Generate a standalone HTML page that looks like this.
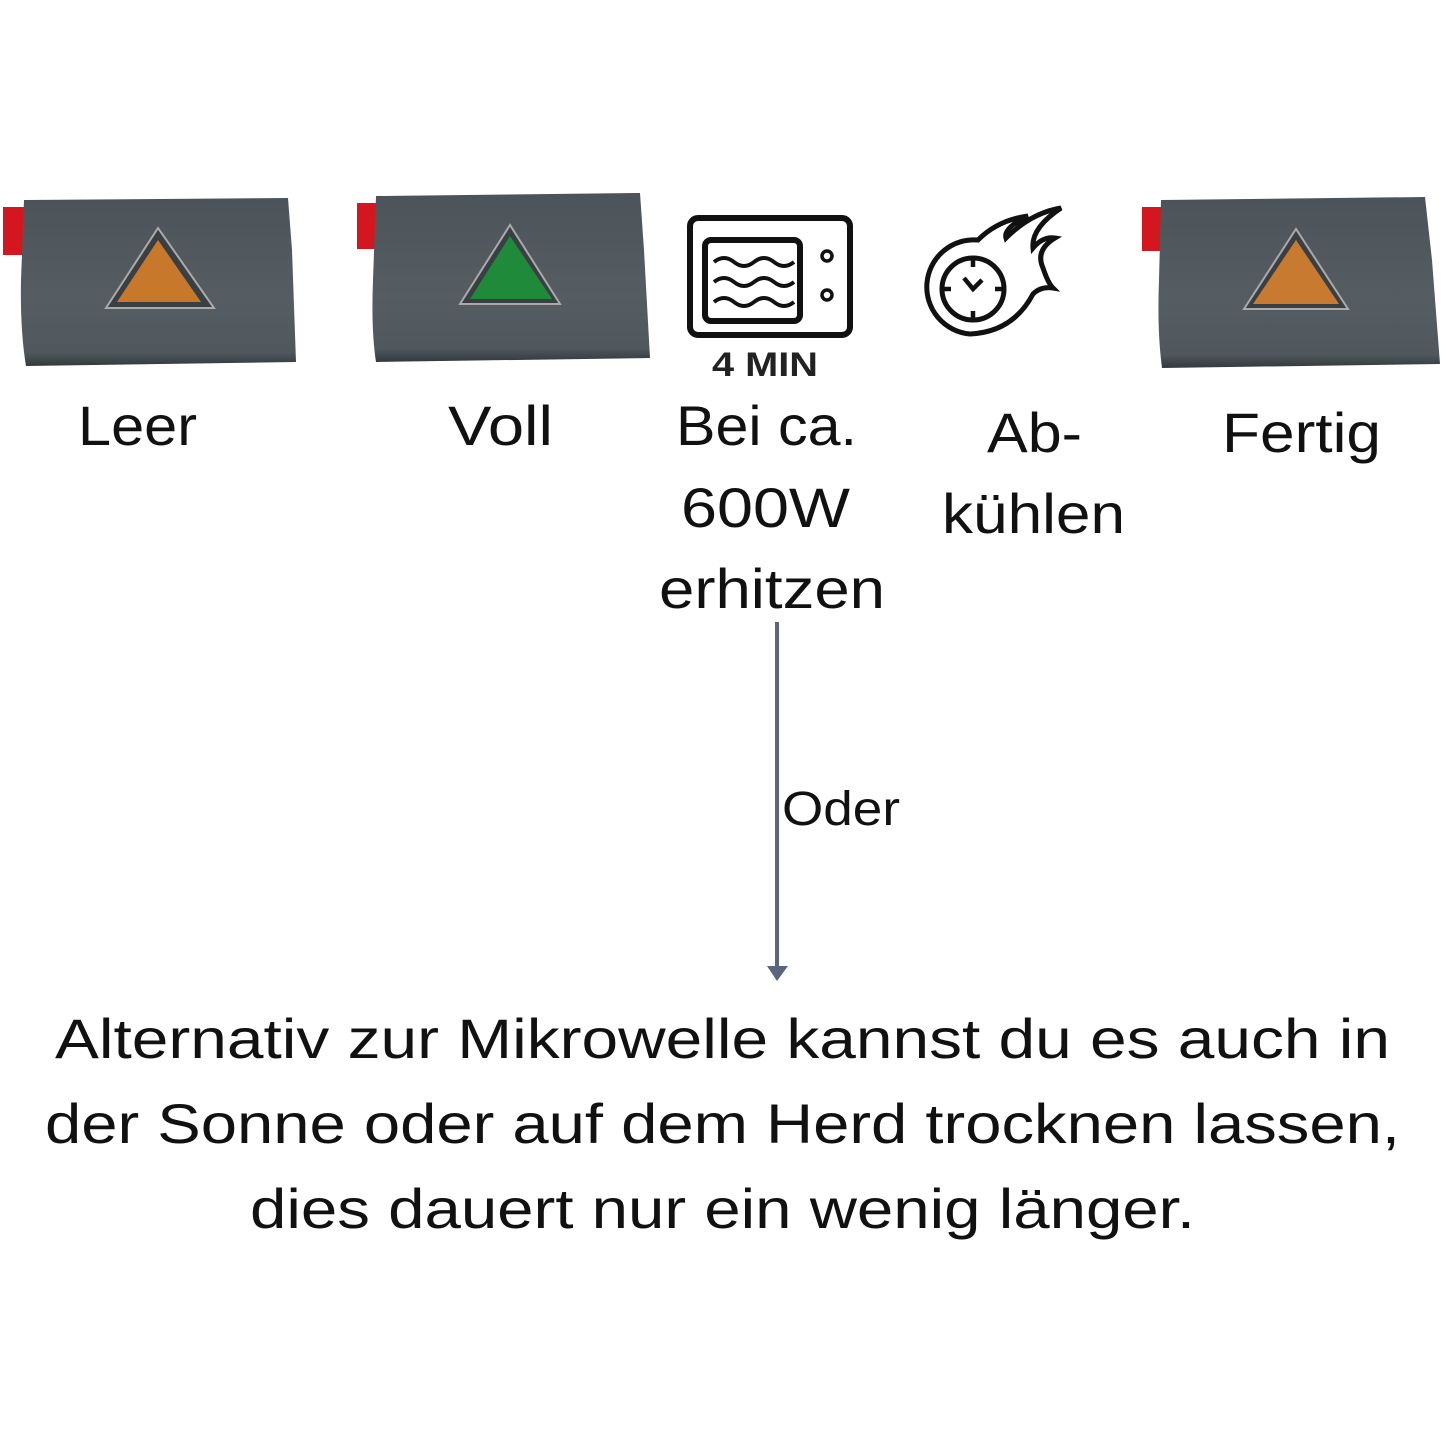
<!DOCTYPE html>
<html><head><meta charset="utf-8"><style>html,body{margin:0;padding:0;background:#fff}svg{display:block}</style></head>
<body>
<svg width="1445" height="1445" viewBox="0 0 1445 1445" xmlns="http://www.w3.org/2000/svg">
<defs>
<linearGradient id="bag" x1="0" y1="0" x2="0" y2="1">
<stop offset="0" stop-color="#4c5459"/><stop offset="0.6" stop-color="#555d62"/><stop offset="0.92" stop-color="#50585d"/><stop offset="1" stop-color="#33393d"/>
</linearGradient>
</defs>
<rect width="1445" height="1445" fill="#fff"/>
<!-- Leer bag -->
<rect x="3" y="207" width="22" height="48" fill="#d4161e"/>
<path d="M24 200 L288 198 L292 250 L296 362 L26 366 Q20 330 21 280 Z" fill="url(#bag)"/>
<polygon points="158,228 106,308 214,308" fill="#3a3f44" stroke="#aaa" stroke-width="2"/>
<polygon points="158,240 117,302 201,302" fill="#c8782a"/>
<!-- Voll bag -->
<rect x="357" y="203" width="20" height="46" fill="#d4161e"/>
<path d="M376 196 L640 193 L644 250 L650 358 L376 362 Q371 330 373 280 Z" fill="url(#bag)"/>
<polygon points="510,225 460,304 560,304" fill="#3a3f44" stroke="#aaa" stroke-width="2"/>
<polygon points="510,236 470,299 552,299" fill="#1f8a3a"/>
<!-- Fertig bag -->
<rect x="1142" y="207" width="20" height="44" fill="#d4161e"/>
<path d="M1161 200 L1425 197 L1432 260 L1440 364 L1162 368 Q1157 330 1159 280 Z" fill="url(#bag)"/>
<polygon points="1296,229 1244,309 1348,309" fill="#3a3f44" stroke="#aaa" stroke-width="2"/>
<polygon points="1296,240 1253,304 1339,304" fill="#c87a30"/>
<!-- Microwave -->
<rect x="690" y="218" width="160" height="117" rx="8" fill="none" stroke="#111" stroke-width="6"/>
<rect x="705" y="240" width="95" height="81" rx="6" fill="none" stroke="#111" stroke-width="6"/>
<path d="M714 262 q10 -8 20 0 t20 0 t20 0 t20 0 M714 282 q10 -8 20 0 t20 0 t20 0 t20 0 M714 302 q10 -8 20 0 t20 0 t20 0 t20 0" fill="none" stroke="#111" stroke-width="4"/>
<circle cx="827" cy="256" r="5" fill="none" stroke="#111" stroke-width="3.5"/>
<circle cx="827" cy="295" r="5" fill="none" stroke="#111" stroke-width="3.5"/>
<text x="712" y="376" font-family="Liberation Sans, sans-serif" font-weight="bold" font-size="34" textLength="106" lengthAdjust="spacingAndGlyphs" fill="#222">4 MIN</text>
<!-- Clock with flames -->
<path d="M970 334 a47 47 0 1 1 8 -94 q20 -20 50 -24 q-25 12 -22 22 q25 -25 55 -30 q-30 20 -28 40 q10 -12 22 -10 q-20 12 -12 30 q5 15 10 20 q-12 -2 -20 6 q-20 38 -63 40 z" fill="none" stroke="#111" stroke-width="5"/>
<circle cx="973" cy="289" r="31" fill="none" stroke="#111" stroke-width="5"/>
<path d="M973 258 v9 M973 320 v-9 M942 289 h9 M1004 289 h-9 M964 278 l9 11 l9 -9" fill="none" stroke="#111" stroke-width="4.5"/>
<g font-family="Liberation Sans, sans-serif" fill="#111" font-size="56">
<text x="78" y="445" textLength="119" lengthAdjust="spacingAndGlyphs">Leer</text>
<text x="448" y="445" textLength="105" lengthAdjust="spacingAndGlyphs">Voll</text>
<text x="676" y="445" textLength="181" lengthAdjust="spacingAndGlyphs">Bei ca.</text>
<text x="681" y="527" textLength="169" lengthAdjust="spacingAndGlyphs">600W</text>
<text x="659" y="608" textLength="226" lengthAdjust="spacingAndGlyphs">erhitzen</text>
<text x="987" y="452" textLength="95" lengthAdjust="spacingAndGlyphs">Ab-</text>
<text x="942" y="533" textLength="183" lengthAdjust="spacingAndGlyphs">kühlen</text>
<text x="1222" y="452" textLength="159" lengthAdjust="spacingAndGlyphs">Fertig</text>
<text x="782" y="825" font-size="48" textLength="118" lengthAdjust="spacingAndGlyphs">Oder</text>
<text x="55" y="1058" textLength="1335" lengthAdjust="spacingAndGlyphs">Alternativ zur Mikrowelle kannst du es auch in</text>
<text x="45" y="1143" textLength="1355" lengthAdjust="spacingAndGlyphs">der Sonne oder auf dem Herd trocknen lassen,</text>
<text x="250" y="1228" textLength="945" lengthAdjust="spacingAndGlyphs">dies dauert nur ein wenig länger.</text>
</g>
<line x1="777" y1="622" x2="777" y2="968" stroke="#5a6680" stroke-width="4"/>
<polygon points="767,966 788,966 777,981" fill="#5a6680"/>
</svg>
</body></html>
